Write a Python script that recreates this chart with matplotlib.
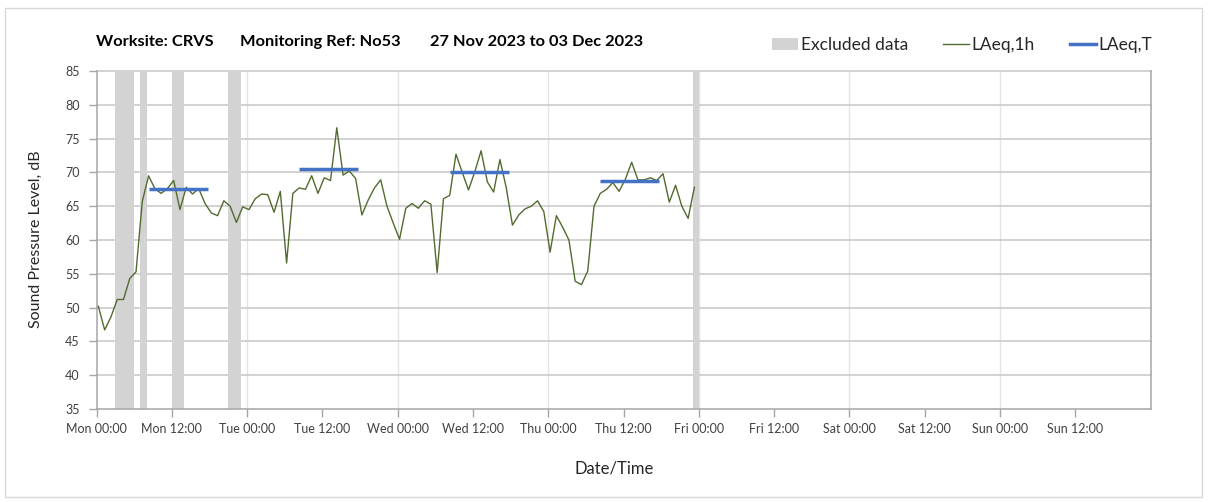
import matplotlib
matplotlib.use("Agg")
import matplotlib.pyplot as plt
import numpy as np
from matplotlib.patches import Patch, Rectangle
from matplotlib.lines import Line2D

plt.rcParams['font.family'] = ['Lato', 'DejaVu Sans']

# ---------------- data ----------------
# hourly LAeq,1h from Mon 00:00 (hour 0) to Thu 23:00 (hour 95)
laeq_1h = [
    50.2, 46.7, 48.6, 51.2, 51.2, 54.3, 55.3, 65.7, 69.5, 67.6, 66.9, 67.6,
    68.8, 64.5, 67.8, 66.8, 67.6, 65.4, 64.0, 63.6, 65.8, 65.0, 62.6, 64.9,
    64.5, 66.1, 66.8, 66.7, 64.1, 67.2, 56.6, 66.9, 67.7, 67.5, 69.5, 66.9,
    69.2, 68.8, 76.6, 69.6, 70.2, 69.1, 63.7, 65.9, 67.7, 68.9, 65.0, 62.5,
    60.1, 64.7, 65.4, 64.7, 65.8, 65.3, 55.2, 66.1, 66.6, 72.7, 70.0, 67.4,
    70.1, 73.2, 68.6, 67.1, 71.9, 67.8, 62.2, 63.7, 64.6, 65.0, 65.8, 64.2,
    58.2, 63.6, 61.9, 60.0, 53.9, 53.4, 55.4, 65.0, 66.9, 67.5, 68.5, 67.2,
    69.0, 71.5, 68.9, 68.9, 69.2, 68.8, 69.8, 65.6, 68.1, 65.0, 63.2, 67.8,
]
first_sample_hour = 0.3          # timestamp of first sample (hours after Mon 00:00)

# excluded periods (start hour, end hour)
excluded_start = [3, 7, 12, 21, 95]
excluded_end = [6, 8, 14, 23, 96]

# LAeq,T daytime values per day
laeq_t_day = [0, 1, 2, 3]
laeq_t = [67.5, 70.5, 70.1, 68.8]
laeq_t_from = 8.3   # hour of day
laeq_t_to = 17.7

tick_labels = ['Mon 00:00', 'Mon 12:00', 'Tue 00:00', 'Tue 12:00',
               'Wed 00:00', 'Wed 12:00', 'Thu 00:00', 'Thu 12:00',
               'Fri 00:00', 'Fri 12:00', 'Sat 00:00', 'Sat 12:00',
               'Sun 00:00', 'Sun 12:00']

# ---------------- figure ----------------
W, H = 1208, 503
fig = plt.figure(figsize=(W / 100, H / 100), dpi=100)
fig.patch.set_facecolor('white')

# outer border
fig.add_artist(Rectangle((5 / W, 1 - 497 / H), (1202 - 5) / W, (497 - 8) / H,
                         transform=fig.transFigure, fill=False,
                         edgecolor='#d9d9d9', linewidth=1.0))

ax = fig.add_axes([96.5 / W, 1 - 409 / H, (1150.5 - 96.5) / W, (409 - 71) / H])

hours = np.arange(len(laeq_1h)) + first_sample_hour

for s, e in zip(excluded_start, excluded_end):
    ax.axvspan(s, e, color='#d3d3d3', linewidth=0, zorder=1)

ax.plot(hours, laeq_1h, color='#526b30', linewidth=1.0, zorder=3)

for d, v in zip(laeq_t_day, laeq_t):
    ax.hlines(v, d * 24 + laeq_t_from, d * 24 + laeq_t_to,
              color='#4472c4', linewidth=2.5, zorder=4)

ax.set_xlim(0, 168)
ax.set_ylim(35, 85)
ax.set_yticks(np.arange(35, 86, 5))
ax.set_xticks(np.arange(0, 168, 12))
ax.set_xticklabels(tick_labels)

# gridlines
for y in np.arange(40, 86, 5):
    ax.axhline(y, color='#c6c6c6', linewidth=1.1, zorder=0.5, clip_on=False)
for x in np.arange(24, 168, 24):
    ax.axvline(x, color='#e4e4e4', linewidth=1.0, zorder=0.4)

ax.spines['top'].set_visible(False)
for side in ['left', 'bottom', 'right']:
    ax.spines[side].set_color('#a6a6a6')
    ax.spines[side].set_linewidth(1.1)

ax.tick_params(axis='x', direction='out', length=6, width=1, color='#a6a6a6',
               labelsize=9, labelcolor='#404040', pad=4)
ax.tick_params(axis='y', direction='out', length=6, width=1, color='#a6a6a6',
               labelsize=9, labelcolor='#404040', pad=6)

# titles
ty = 1 - 42 / H
fig.text(96 / W, ty, 'Worksite: CRVS', fontsize=11.8, fontweight='bold', ha='left', va='center')
fig.text(240 / W, ty, 'Monitoring Ref: No53', fontsize=11.8, fontweight='bold', ha='left', va='center')
fig.text(430 / W, ty, '27 Nov 2023 to 03 Dec 2023', fontsize=11.8, fontweight='bold', ha='left', va='center')

fig.text(36 / W, 1 - 239 / H, 'Sound Pressure Level, dB', fontsize=11.5,
         rotation=90, ha='center', va='center', color='#262626')
fig.text(614 / W, 1 - 468 / H, 'Date/Time', fontsize=12, ha='center', va='center',
         color='#262626')

handles = [Patch(facecolor='#d3d3d3', edgecolor='none'),
           Line2D([], [], color='#526b30', linewidth=1.0),
           Line2D([], [], color='#4472c4', linewidth=2.5)]
labels = ['Excluded data', 'LAeq,1h', 'LAeq,T']
leg = fig.legend(handles, labels, ncol=3, loc='center',
                 bbox_to_anchor=(962 / W, 1 - 45 / H), frameon=False,
                 fontsize=12.5, handlelength=1.5, handletextpad=0.17,
                 columnspacing=2.0, borderpad=0, borderaxespad=0)
for t in leg.get_texts():
    t.set_color('#262626')

fig.savefig('out.png', dpi=100, facecolor='white')
